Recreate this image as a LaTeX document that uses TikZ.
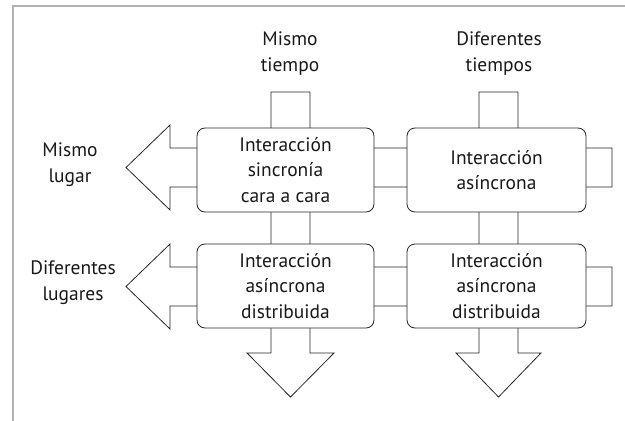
\documentclass[tikz,border=0pt]{standalone}
\usepackage{fontspec}
\setmainfont{PT Sans}
\usepackage{xcolor}
\usepackage{tikz}

\tikzset{
  flecha/.style={black!85, semithick, fill=white, line join=miter},
  caja/.style={black!85, semithick, fill=white, rounded corners=6pt},
  texto/.style={align=center, font=\fontsize{14.6}{19.3}\selectfont, text=black!90},
}

\begin{document}
\begin{tikzpicture}[x=0.75pt, y=-0.75pt]
                \useasboundingbox (0,0) rectangle (625,421);

                %% frame
                \draw[black!30, thick] (13,421) -- (13,6) -- (625,6);

                %% arrows
                \draw[flecha] (271,92) -- (310,92) -- (310,353) -- (334,353) -- (290.5,397) -- (247,353) -- (271,353) -- cycle;
                \draw[flecha] (479,92) -- (518,92) -- (518,353) -- (541,353) -- (498.5,397) -- (456,353) -- (479,353) -- cycle;
                \draw[flecha] (612,148) -- (612,187) -- (170,187) -- (170,210) -- (126,167.5) -- (170,125) -- (170,148) -- cycle;
                \draw[flecha] (612,267) -- (612,306) -- (170,306) -- (170,329) -- (126,286.5) -- (170,244) -- (170,267) -- cycle;

                %% boxes
                \draw[caja] (197,128) rectangle (374,212);
                \draw[caja] (407,128) rectangle (586,212);
                \draw[caja] (197,244) rectangle (374,328);
                \draw[caja] (407,244) rectangle (586,328);

                \node[texto] (sincronia) at (285.5,170) {Interacción\\sincronía\\cara a cara};
                \node[texto] (asincrona) at (496.5,170) {Interacción\\asíncrona};
                \node[texto] (distrib1)  at (285.5,286) {Interacción\\asíncrona\\distribuida};
                \node[texto] (distrib2)  at (496.5,286) {Interacción\\asíncrona\\distribuida};

                %% labels
                \node[texto] (mtiempo) at (290,53.5)  {Mismo\\tiempo};
                \node[texto] (dtiempo) at (499,53.5)  {Diferentes\\tiempos};
                \node[texto] (mlugar)  at (70,165)    {Mismo\\lugar};
                \node[texto] (dlugar)  at (73,283)    {Diferentes\\lugares};

            \end{tikzpicture}
\end{document}
